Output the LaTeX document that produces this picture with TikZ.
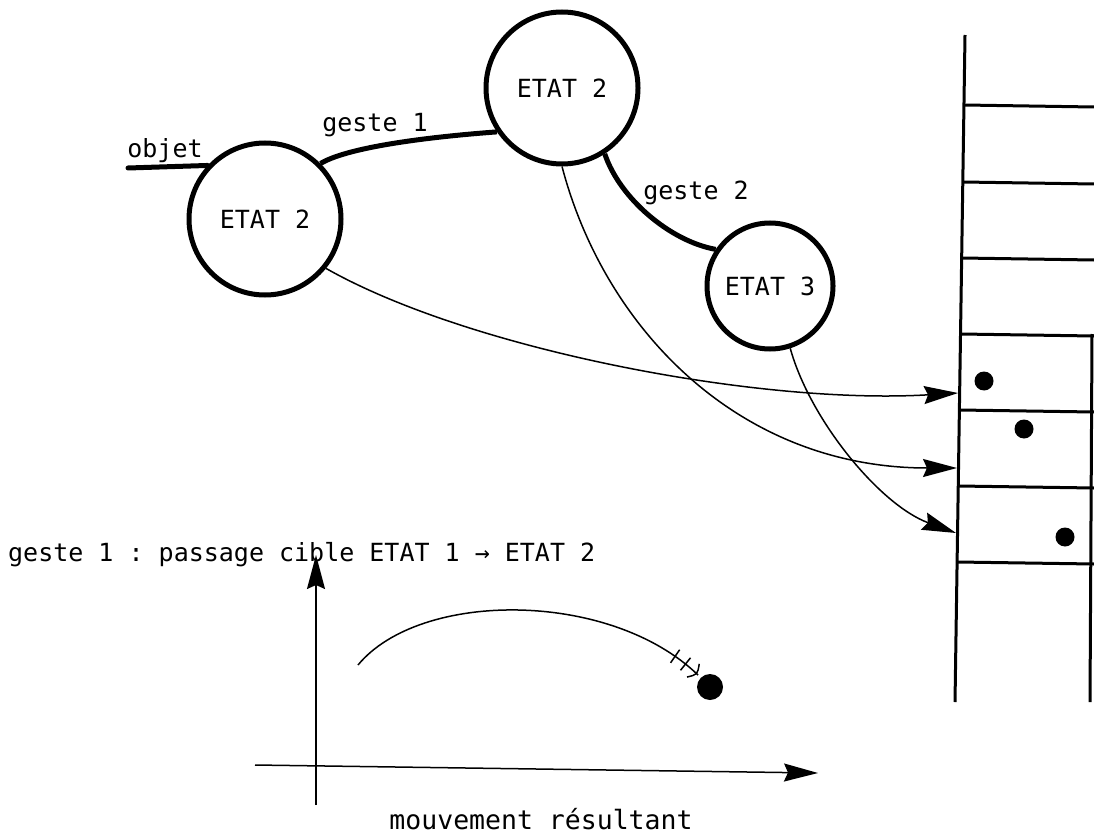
\documentclass[tikz,border=0pt]{standalone}
\usepackage{fontspec}
\setmonofont{DejaVu Sans Mono}
\usetikzlibrary{arrows.meta,decorations.markings}

\begin{document}
\begin{tikzpicture}[x=1pt, y=-1pt,
    etat/.style ={circle, draw, line width=5pt, inner sep = 0pt, minimum size=152pt,
                  font=\ttfamily\fontsize{25}{30}\selectfont},
    texte/.style ={font=\ttfamily\fontsize{25}{30}\selectfont, inner sep=0pt},
    geste/.style ={line width=5pt},
    fleche/.style ={line width=1.5pt, -{Stealth[length=34pt,width=18pt,inset=4pt]}},
    pile/.style ={line width=3pt}]
   \useasboundingbox (0,0) rectangle (1094,837);

   \node[etat] (E1) at (265,219) {ETAT 2};
   \node[etat] (E2) at (562,88)  {ETAT 2};
   \node[etat, minimum size=126pt] (E3) at (770,286) {ETAT 3};

   \node[texte, anchor=base] (objet) at (165,158) {objet};
   \coordinate (objet-g) at (128,168);
   \draw[geste, line cap=round] (objet-g) -- (E1.137);

   \draw[geste] (E1.45) .. controls +(30,-18) and +(-55,4) .. (E2.214);
   \node[texte, anchor=base] (g1) at (375,132) {geste 1};
   \draw[geste] (E2.303) .. controls +(15,45) and +(-45,-8) .. (E3.146);
   \node[texte, anchor=base] (g2) at (696,200) {geste 2};

   % pile des cibles
   \draw[pile] (965,35) -- (955,702);
   \draw[pile] (1092,334) -- (1090,702);
   \foreach \y in {105,182,258,334,410,486,562}
      \draw[pile] ({965-10*(\y-35)/667},\y) -- (1094,\y+2);
   \fill (984,381) circle (9.5);
   \fill (1024,429) circle (9.5);
   \fill (1065,537) circle (9.5);
   \coordinate (c1) at (958,393);
   \coordinate (c2) at (957,468);
   \coordinate (c3) at (956,533);

   \draw[fleche] (E1.321) .. controls (470,350) and (760,405) .. (c1);
   \draw[fleche] (E2.270) .. controls (605,330) and (740,468) .. (c2);
   \draw[fleche] (E3.288) .. controls (810,420) and (880,505) .. (c3);

   \node[texte, anchor=base west] (legende) at (8,561)
      {geste 1 : passage cible ETAT 1 → ETAT 2};

   % mouvement
   \coordinate (ay) at (316,555);
   \coordinate (ax) at (818,773);
   \draw[fleche] (316,805) -- (ay);
   \draw[fleche] (255,765) -- (ax);
   \draw[line width=1.5pt, postaction={decorate}, decoration={markings,
        mark=at position 0.92 with {\draw[line width=1.5pt] (0,-8pt) -- (0,8pt);},
        mark=at position 0.955 with {\draw[line width=1.5pt] (0,-8pt) -- (0,8pt);},
        mark=at position 0.99 with {\draw[line width=1.5pt] (-3pt,-9pt) .. controls (3pt,0pt) .. (-3pt,9pt);}}]
      (358,665) .. controls (420,590) and (610,590) .. (698,675);
   \fill (710,687) circle (13);
   \node[texte, font=\ttfamily\fontsize{26.5}{32}\selectfont, anchor=base] (legende-axe)
      at (541,829) {mouvement résultant};
 \end{tikzpicture}
\end{document}
